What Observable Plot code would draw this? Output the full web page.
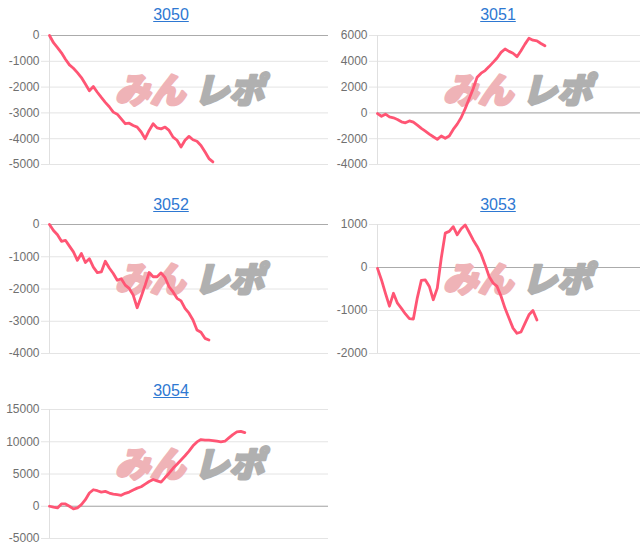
<!DOCTYPE html>
<html><head><meta charset="utf-8">
<script src="https://cdn.jsdelivr.net/npm/d3@7"></script>
<script src="https://cdn.jsdelivr.net/npm/@observablehq/plot@0.6"></script>
<style>
html,body{margin:0;padding:0;background:#fff;overflow:hidden;width:640px;height:558px;}
#root{position:relative;width:640px;height:558px;overflow:hidden;}
.title{position:absolute;width:200px;text-align:center;font-family:"Liberation Sans",Arial,sans-serif;font-size:16px;line-height:18px;}
.title a{color:#2e78d2;text-decoration:underline;}
.chart{position:absolute;}
</style></head><body><div id="root"></div>
<script>
// ---- data ----
const titles = ["3050", "3051", "3052", "3053", "3054"];

const s3050 = [0,-280,-470,-670,-920,-1140,-1270,-1440,-1630,-1880,-2140,-1980,-2200,-2400,-2590,-2760,-2970,-3050,-3230,-3420,-3400,-3490,-3550,-3740,-4000,-3680,-3420,-3580,-3620,-3550,-3680,-3940,-4060,-4320,-4060,-3910,-4040,-4100,-4260,-4510,-4770,-4900];
const s3051 = [-50,-260,-100,-310,-380,-510,-690,-770,-620,-720,-950,-1200,-1410,-1640,-1850,-2050,-1790,-1970,-1790,-1280,-870,-360,330,1100,1870,2770,3080,3280,3590,3920,4260,4690,4950,4770,4620,4360,4820,5330,5790,5640,5590,5380,5200];
const s3052 = [0,-185,-320,-520,-490,-670,-850,-1110,-900,-1180,-1060,-1320,-1490,-1470,-1140,-1350,-1520,-1730,-1680,-1880,-1980,-2190,-2580,-2240,-1880,-1490,-1620,-1620,-1500,-1650,-1930,-2090,-2290,-2370,-2600,-2750,-2960,-3270,-3340,-3530,-3580];
const s3053 = [-20,-290,-600,-900,-600,-830,-950,-1080,-1190,-1200,-700,-300,-290,-440,-750,-480,220,800,840,950,760,900,990,820,640,490,310,60,-210,-360,-440,-670,-950,-1180,-1410,-1530,-1500,-1300,-1100,-1000,-1220];
const s3054 = [0,-150,-260,360,360,0,-400,-250,260,1020,2050,2560,2410,2200,2300,2050,1890,1790,1690,2000,2200,2510,2810,3020,3430,3840,4150,3940,3740,4450,5120,5890,6500,7160,7830,8550,9370,9980,10340,10240,10240,10180,10080,9980,10080,10590,11110,11520,11620,11410];

const ticks3050 = [0, -1000, -2000, -3000, -4000, -5000];
const ticks3051 = [6000, 4000, 2000, 0, -2000, -4000];
const ticks3052 = [0, -1000, -2000, -3000, -4000];
const ticks3053 = [1000, 0, -1000, -2000];
const ticks3054 = [15000, 10000, 5000, 0, -5000];

const watermark = ["みん", "レポ"];

// ---- layout ----
const series = [s3050, s3051, s3052, s3053, s3054];
const tickSets = [ticks3050, ticks3051, ticks3052, ticks3053, ticks3054];
const colLeft = [0, 328];
const titleCenter = [171, 498];
const rowTop = [30, 219, 404];
const titleTop = [6, 196, 382];
const xMax = 70;

const root = document.getElementById("root");

series.forEach((vals, k) => {
  const col = k % 2, row = Math.floor(k / 2);
  const ticks = tickSets[k];
  const t = document.createElement("div");
  t.className = "title";
  t.style.left = (titleCenter[col] - 100) + "px";
  t.style.top = titleTop[row] + "px";
  const a = document.createElement("a");
  a.href = "#";
  a.textContent = titles[k];
  t.appendChild(a);
  root.appendChild(t);

  const wm = {frameAnchor: "middle", dy: -8, fontSize: 35, fontWeight: 900, fontStyle: "italic", fontFamily: "Noto Sans CJK JP", strokeWidth: 2.6, strokeLinejoin: "round"};
  const svg = Plot.plot({
    width: 328, height: 139,
    marginLeft: 49, marginRight: 0, marginTop: 5, marginBottom: 5,
    style: {background: "transparent", fontFamily: "Liberation Sans, Arial, sans-serif", fontSize: "12px", overflow: "visible"},
    x: {domain: [0, xMax], axis: null},
    y: {domain: d3.extent(ticks), axis: null},
    marks: [
      Plot.gridY(ticks, {stroke: "#e4e4e4", strokeOpacity: 1}),
      Plot.axisY(ticks, {tickSize: 8, tickPadding: 2, stroke: "#e4e4e4", fill: "#707070", tickFormat: d => String(d)}),
      Plot.ruleY([0], {stroke: "#ababab"}),
      Plot.ruleX([0], {stroke: "#e0e0e0"}),
      Plot.text([watermark[0]], {...wm, text: d => d, dx: -39, fill: "#efb3b7", stroke: "#efb3b7"}),
      Plot.text([watermark[1]], {...wm, text: d => d, dx: 40, fill: "#b0b0b0", stroke: "#b0b0b0"}),
      Plot.line(vals, {x: (d, i) => i, y: d => d, stroke: "#ff5574", strokeWidth: 2.8, curve: "linear"})
    ]
  });
  svg.classList.add("chart");
  svg.style.left = colLeft[col] + "px";
  svg.style.top = rowTop[row] + "px";
  svg.style.maxWidth = "none";
  root.appendChild(svg);
});
</script></body></html>
